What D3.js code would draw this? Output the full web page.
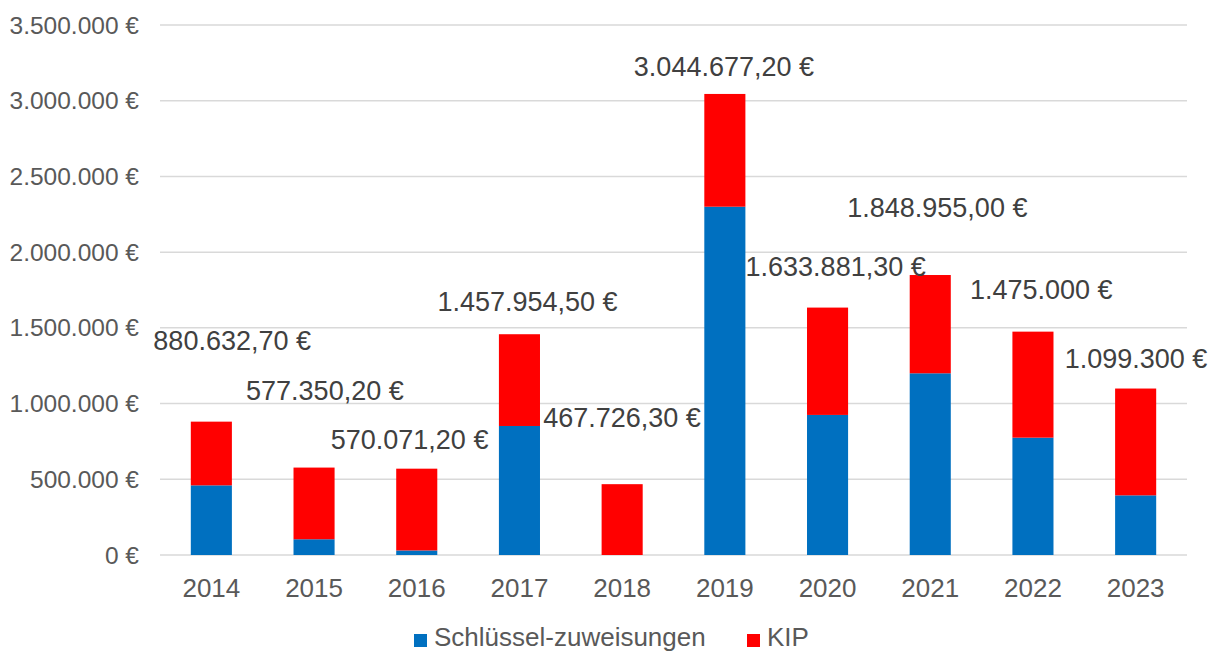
<!DOCTYPE html>
<html>
<head>
<meta charset="utf-8">
<script src="https://cdn.jsdelivr.net/npm/d3@7"></script>
<style>
  body { margin: 0; background: #fff; }
  svg { display: block; font-family: "Liberation Sans", Arial, sans-serif; }
</style>
</head>
<body>
<svg width="1208" height="653"></svg>
<script>
// Chart data
const years = ["2014", "2015", "2016", "2017", "2018", "2019", "2020", "2021", "2022", "2023"];
const totals = [880632.70, 577350.20, 570071.20, 1457954.50, 467726.30, 3044677.20, 1633881.30, 1848955.00, 1475000, 1099300];
const schluessel = [460000, 104000, 30000, 852000, 0, 2300000, 925000, 1200000, 775000, 394000];
const totalDecimals = [2, 2, 2, 2, 2, 2, 2, 2, 0, 0];
const yTicks = [0, 500000, 1000000, 1500000, 2000000, 2500000, 3000000, 3500000];
const seriesNames = ["Schlüssel-zuweisungen", "KIP"];

// label offsets (px) from bar centre / bar top, as placed by hand in the original
const labelOffsets = [[-58, -72], [-68, -68], [-86, -20], [-82, -23], [-79, -57],
                      [-91, -18], [-82, -32], [-83, -58], [-63, -33], [-71, -21]];

const colors = {blue: "#0070C0", red: "#FF0000", grid: "#d9d9d9", text: "#595959"};

const de = d3.formatLocale({decimal: ",", thousands: ".", grouping: [3], currency: ["", " €"]});

const rows = years.map((yr, i) => ({
    year: yr,
    blue: schluessel[i],
    kip: totals[i] - schluessel[i],
    total: totals[i]
}));

const svg = d3.select("svg");
const plotLeft = 160, plotRight = 1187, plotTop = 25, plotBottom = 555;

const x = d3.scaleBand()
    .domain(years)
    .range([plotLeft, plotRight])
    .paddingInner(0.6)
    .paddingOuter(0.3);

const y = d3.scaleLinear()
    .domain([0, 3500000])
    .range([plotBottom, plotTop]);

// gridlines
svg.append("g").selectAll("line")
    .data(yTicks)
    .join("line")
    .attr("x1", plotLeft)
    .attr("x2", plotRight)
    .attr("y1", d => y(d))
    .attr("y2", d => y(d))
    .attr("stroke", colors.grid)
    .attr("stroke-width", 1.5);

// y tick labels
svg.append("g").selectAll("text")
    .data(yTicks)
    .join("text")
    .attr("x", 139)
    .attr("y", d => y(d))
    .attr("dy", "0.35em")
    .attr("text-anchor", "end")
    .attr("fill", colors.text)
    .style("font-size", "24.5px")
    .text(d => de.format(",.0f")(d) + " €");

// x labels
svg.append("g").selectAll("text")
    .data(years)
    .join("text")
    .attr("x", d => x(d) + x.bandwidth() / 2)
    .attr("y", 597)
    .attr("text-anchor", "middle")
    .attr("fill", colors.text)
    .style("font-size", "26px")
    .text(d => d);

// stacked bars
const stack = d3.stack().keys(["blue", "kip"]);
const layers = stack(rows);
const layerColors = [colors.blue, colors.red];

svg.append("g").selectAll("g")
    .data(layers)
    .join("g")
    .attr("fill", (d, i) => layerColors[i])
    .selectAll("rect")
    .data(d => d)
    .join("rect")
    .attr("x", d => x(d.data.year))
    .attr("width", x.bandwidth())
    .attr("y", d => y(d[1]))
    .attr("height", d => y(d[0]) - y(d[1]));

// total labels
svg.append("g").selectAll("text")
    .data(rows)
    .join("text")
    .attr("x", (d, i) => x(d.year) + x.bandwidth() / 2 + labelOffsets[i][0])
    .attr("y", (d, i) => y(d.total) + labelOffsets[i][1])
    .attr("fill", "#404040")
    .style("font-size", "27px")
    .text((d, i) => de.format(`,.${totalDecimals[i]}f`)(d.total) + " €");

// legend
const legend = svg.append("g");
const legendItems = [
    {name: seriesNames[0], color: colors.blue, x: 414},
    {name: seriesNames[1], color: colors.red, x: 747}
];
legendItems.forEach(item => {
    legend.append("rect")
        .attr("x", item.x)
        .attr("y", 634)
        .attr("width", 13)
        .attr("height", 13)
        .attr("fill", item.color);
    legend.append("text")
        .attr("x", item.x + 20)
        .attr("y", 646)
        .attr("fill", colors.text)
        .style("font-size", "26px")
        .text(item.name);
});
</script>
</body>
</html>
